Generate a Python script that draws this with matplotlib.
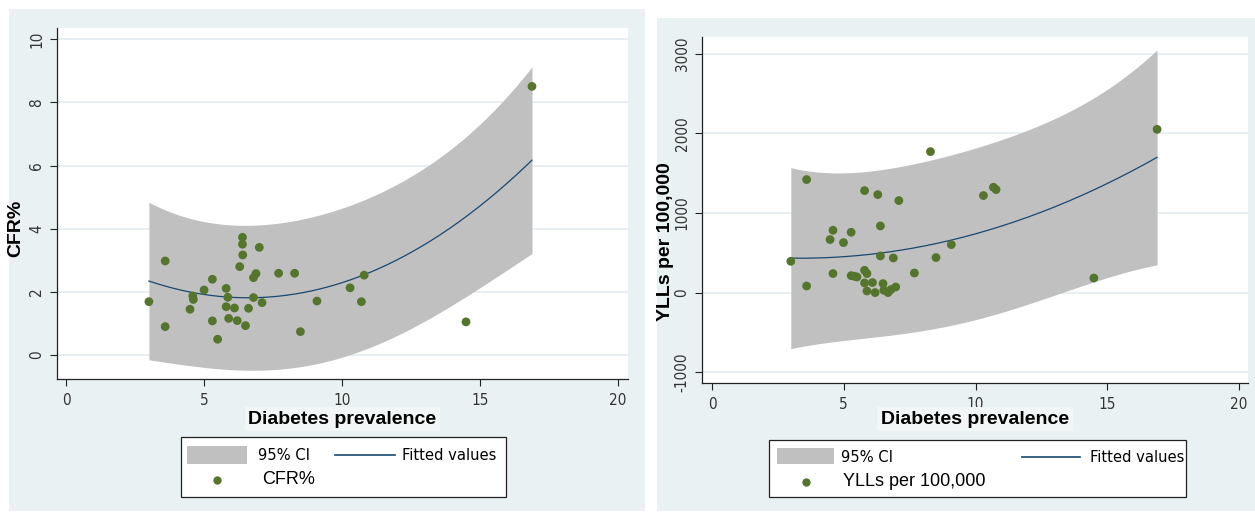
import numpy as np
import matplotlib
matplotlib.use("Agg")
import matplotlib.pyplot as plt
from matplotlib.patches import Rectangle
from matplotlib.lines import Line2D
from matplotlib import font_manager as fm

# ---------------- data ----------------
cfr_x = [3.00, 3.59, 3.59, 4.49, 4.59, 4.61, 5.00, 5.30, 5.30, 5.49, 5.80, 5.80,
         5.86, 5.89, 6.10, 6.20, 6.29, 6.39, 6.39, 6.40, 6.50, 6.61, 6.79, 6.88,
         6.79, 7.00, 7.10, 7.70, 8.28, 8.49, 9.09, 10.29, 10.70, 10.80, 14.49, 16.88]
cfr_y = [1.69, 2.98, 0.90, 1.45, 1.87, 1.76, 2.06, 2.40, 1.08, 0.50, 2.11, 1.53,
         1.83, 1.16, 1.49, 1.09, 2.80, 3.73, 3.51, 3.17, 0.93, 1.48, 2.45, 2.58,
         1.82, 3.41, 1.66, 2.59, 2.59, 0.74, 1.71, 2.13, 1.69, 2.53, 1.05, 8.51]

yll_x = [2.99, 3.59, 3.59, 4.59, 4.48, 4.59, 4.99, 5.28, 5.28, 5.50, 5.40, 5.79,
         6.29, 7.09, 6.39, 6.39, 6.88, 5.79, 5.88, 5.79, 6.09, 5.88, 6.19, 6.49,
         6.52, 6.68, 6.79, 6.97, 7.68, 8.50, 9.08, 8.29, 10.30, 10.68, 10.78, 14.49, 16.89]
yll_y = [393, 1420, 83, 783, 666, 239, 628, 758, 213, 196, 205, 1281,
         1231, 1156, 837, 460, 435, 280, 239, 121, 126, 20, 0, 113,
         29, 0, 38, 70, 246, 440, 603, 1771, 1219, 1323, 1294, 183, 2051]

x_ticks = [0, 5, 10, 15, 20]
cfr_ticks = [0, 2, 4, 6, 8, 10]
yll_ticks = [-1000, 0, 1000, 2000, 3000]

x_label = "Diabetes prevalence"
cfr_label = "CFR%"
yll_label = "YLLs per 100,000"
ci_label = "95% CI"
fit_label = "Fitted values"

# ---------------- style ----------------
W, H = 1255, 513
BG = "#EAF1F3"
GRID = "#E6EEF1"
CI_C = "#C0C0C0"
FIT_C = "#1A476F"
MK_C = "#55752F"
SANS = ["Liberation Sans", "DejaVu Sans"]
plt.rcParams["axes.unicode_minus"] = False

# narrow font if available
_names = {f.name for f in fm.fontManager.ttflist}
if "Liberation Sans Narrow" in _names:
    NARROW = dict(family=["Liberation Sans Narrow", "DejaVu Sans"])
    TICK_FS, LEG_FS = 11.0, 12.5
else:
    NARROW = dict(family=["DejaVu Sans"], stretch="condensed")
    TICK_FS, LEG_FS = 11.0, 11.8


def fx(px):
    return px / W


def fy(py):
    return 1 - py / H


def qfit_ci(x, y, t=2.03):
    x = np.asarray(x, float)
    y = np.asarray(y, float)
    X = np.vander(x, 3)
    beta, *_ = np.linalg.lstsq(X, y, rcond=None)
    resid = y - X @ beta
    n = len(x)
    s2 = resid @ resid / (n - 3)
    XtXi = np.linalg.inv(X.T @ X)
    g = np.linspace(x.min(), x.max(), 200)
    V = np.vander(g, 3)
    yhat = V @ beta
    se = np.sqrt(s2 * (1 + np.einsum("ij,jk,ik->i", V, XtXi, V)))
    return g, yhat, yhat - t * se, yhat + t * se


fig = plt.figure(figsize=(W / 100, H / 100), dpi=100)
fig.patch.set_facecolor("white")

# panel backgrounds
fig.add_artist(Rectangle((fx(9), fy(511)), fx(645) - fx(9), fy(9) - fy(511),
                         transform=fig.transFigure, facecolor=BG, edgecolor="none", zorder=0))
fig.add_artist(Rectangle((fx(657), fy(511)), fx(1255) - fx(657), fy(18) - fy(511),
                         transform=fig.transFigure, facecolor=BG, edgecolor="none", zorder=0))


def make_panel(box, x, y, yticks, xlim, ylim, ylabel, ylab_pos, legend):
    left, top, right, bottom = box
    ax = fig.add_axes([fx(left), fy(bottom), fx(right) - fx(left), fy(top) - fy(bottom)])
    ax.set_facecolor("white")
    g, yh, lo, hi = qfit_ci(x, y)
    ax.fill_between(g, lo, hi, color=CI_C, linewidth=0, zorder=2)
    ax.plot(g, yh, color=FIT_C, linewidth=0.9, zorder=3)
    ax.scatter(x, y, s=40, color=MK_C, edgecolors="none", zorder=4)
    ax.set_xlim(*xlim)
    ax.set_ylim(*ylim)
    ax.set_xticks(x_ticks)
    ax.set_yticks(yticks)
    ax.set_xticklabels([str(v) for v in x_ticks], fontsize=TICK_FS, color="#333333", **NARROW)
    ax.set_yticklabels([str(v) for v in yticks], fontsize=TICK_FS, color="#333333",
                       rotation=90, va="center", **NARROW)
    ax.tick_params(axis="both", direction="out", length=5, width=0.8, color="#222222")
    ax.tick_params(axis="x", pad=5)
    ax.tick_params(axis="y", pad=4)
    for s in ["top", "right"]:
        ax.spines[s].set_visible(False)
    for s in ["left", "bottom"]:
        ax.spines[s].set_color("#222222")
        ax.spines[s].set_linewidth(0.9)
    ax.yaxis.grid(True, color=GRID, linewidth=1.3, zorder=1)
    ax.set_axisbelow(True)
    ax.set_ylabel(ylabel, family=SANS, fontsize=14, fontweight="bold")
    ax.yaxis.set_label_coords(*ylab_pos)

    # x label with light box
    cx = (left + right) / 2
    fig.text(fx(cx), fy(419), x_label, family=SANS, fontsize=14, fontweight="bold",
             ha="center", va="center",
             bbox=dict(boxstyle="square,pad=0.2", facecolor="#F3F6F6", edgecolor="none"))

    # legend
    (bx0, by0, bx1, by1, patch, ci_tx, line, fit_tx, mk_x, lab_tx, r1, r2, lab) = legend
    fig.add_artist(Rectangle((fx(bx0), fy(by1)), fx(bx1) - fx(bx0), fy(by0) - fy(by1),
                             transform=fig.transFigure, facecolor="white",
                             edgecolor="#222222", linewidth=0.9, zorder=5))
    fig.add_artist(Rectangle((fx(patch[0]), fy(patch[3])), fx(patch[2]) - fx(patch[0]),
                             fy(patch[1]) - fy(patch[3]), transform=fig.transFigure,
                             facecolor=CI_C, edgecolor="none", zorder=6))
    fig.text(fx(ci_tx), fy(r1), ci_label, fontsize=LEG_FS, ha="left",
             va="center", zorder=6, **NARROW)
    fig.add_artist(Line2D([fx(line[0]), fx(line[1])], [fy(r1), fy(r1)],
                          transform=fig.transFigure, color=FIT_C, linewidth=1.2, zorder=6))
    fig.text(fx(fit_tx), fy(r1), fit_label, fontsize=LEG_FS, ha="left",
             va="center", zorder=6, **NARROW)
    fig.add_artist(Line2D([fx(mk_x)], [fy(r2)], transform=fig.transFigure, marker="o",
                          markersize=6, color=MK_C, markeredgewidth=0, linestyle="none", zorder=6))
    fig.text(fx(lab_tx), fy(r2), lab, family=SANS, fontsize=13, ha="left",
             va="center", zorder=6)
    return ax


make_panel((57, 28, 628, 379), cfr_x, cfr_y, cfr_ticks, (-0.33, 20.36), (-0.76, 10.36),
           cfr_label, (-0.058, 0.43),
           (181, 437, 506, 497, (187, 446, 247, 464), 258, (335, 395), 402, 217, 262,
            455, 480, cfr_label))

make_panel((702, 37, 1248, 383), yll_x, yll_y, yll_ticks, (-0.38, 20.34), (-1136, 3211),
           yll_label, (-0.052, 0.41),
           (769, 440, 1186, 497, (777, 448, 834, 464), 841, (1022, 1080), 1090, 806, 843,
            457, 482, yll_label))

fig.savefig("out.png", dpi=100)
